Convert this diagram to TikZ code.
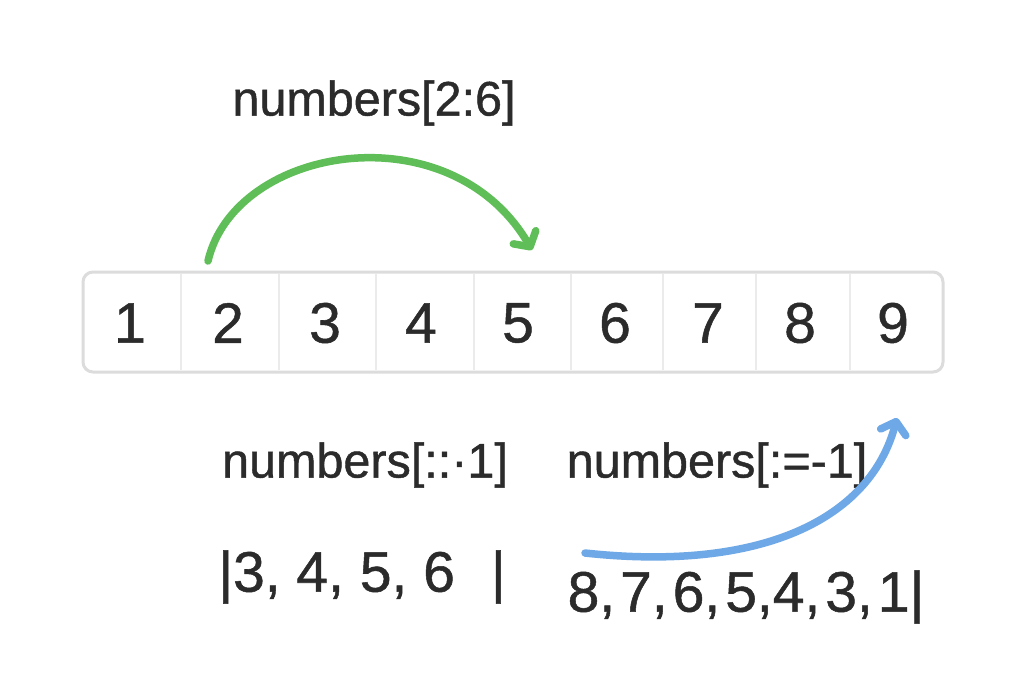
\documentclass[tikz,border=0pt]{standalone}
\usepackage{fontspec}
\setmainfont{Liberation Sans}
\newfontface\medfont{Liberation Sans}[FakeBold=0.9]
\usetikzlibrary{arrows.meta}
\definecolor{txt}{HTML}{2B2B2B}
\definecolor{grn}{HTML}{5FBE57}
\definecolor{blu}{HTML}{6EA8E6}
\definecolor{boxc}{HTML}{DCDCDC}
\definecolor{divc}{HTML}{EBEBEB}
\newcommand{\cs}{,\hspace{5pt}}
\tikzset{
  cell/.style={text=txt,font=\medfont\fontsize{57}{60}\selectfont,inner sep=0pt,anchor=center},
  lbl/.style={text=txt,font=\medfont\fontsize{48.5}{52}\selectfont,inner sep=0pt,anchor=center},
  res/.style={text=txt,font=\medfont\fontsize{57}{60}\selectfont,inner sep=0pt,anchor=center},
  arr/.style={line width=7.5pt,line cap=round,-{Straight Barb[round,length=11pt,width=26pt]}}
}
\begin{document}
\begin{tikzpicture}[x=1pt,y=-1pt]
\useasboundingbox (0,0) rectangle (1024,683);
\fill[white] (0,0) rectangle (1024,683);
% array box
\node[draw=boxc,line width=3pt,rounded corners=10pt,minimum width=860pt,minimum height=100pt,inner sep=0pt] (box) at (513,322) {};
\foreach \x in {181,279,376,474,571,663,756,850}{
  \draw[divc,line width=1.5pt] (\x,274) -- (\x,370);
}
\node[cell] (c1) at (130,323) {1};
\node[cell] (c2) at (228,323) {2};
\node[cell] (c3) at (325,323) {3};
\node[cell] (c4) at (421,323) {4};
\node[cell] (c5) at (518,323) {5};
\node[cell] (c6) at (615,323) {6};
\node[cell] (c7) at (708,323) {7};
\node[cell] (c8) at (800,323) {8};
\node[cell] (c9) at (893,323) {9};
% labels
\node[lbl] (l1) at (374,103) {numbers[2:6]};
\node[lbl] (l2) at (365,465) {numbers[::·1]};
\node[lbl] (l3) at (717,465) {numbers[:=-1]};
% results
\node[res] (r1) at (362,577) {|3, 4, 5, 6\hspace{36pt}|};
\node[res] (r2) at (746,597) {8\cs 7\cs 6\cs 5,4\cs 3\cs 1|};
% arrows
\coordinate (gs) at (208,261);
\coordinate (ge) at (532,250);
\draw[arr,grn] (gs) .. controls (235,145) and (450,110) .. (ge);
\coordinate (bs) at (585,553);
\coordinate (be) at (897,418);
\draw[arr,blu] (bs) .. controls (760,572) and (870,520) .. (be);
\end{tikzpicture}
\end{document}
